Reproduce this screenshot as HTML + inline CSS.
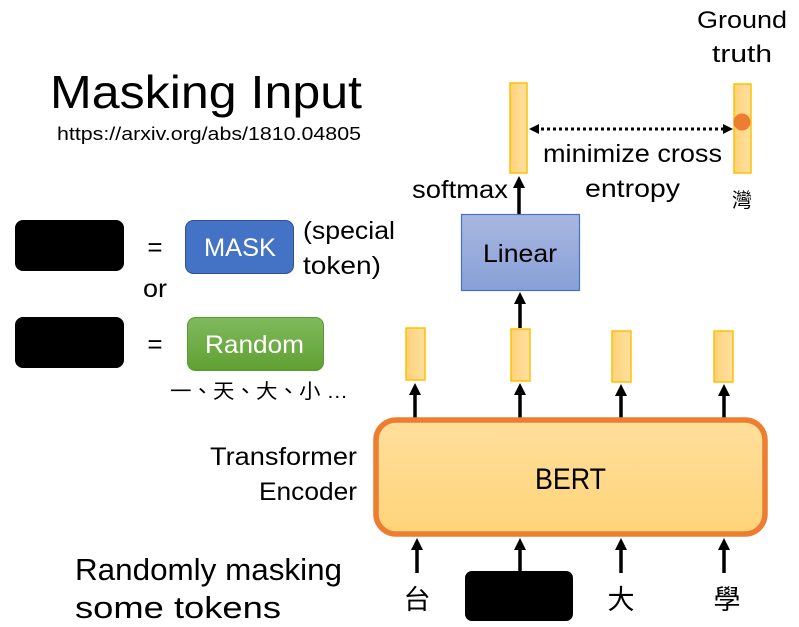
<!DOCTYPE html>
<html><head><meta charset="utf-8"><style>
html,body{margin:0;padding:0;background:#fff}
svg{display:block}
text{font-family:"Liberation Sans","Noto Sans CJK TC",sans-serif;fill:#000}
</style></head><body>
<svg width="799" height="627" viewBox="0 0 799 627" xmlns="http://www.w3.org/2000/svg">
<defs>
<linearGradient id="y" x1="0" y1="0" x2="0" y2="1"><stop offset="0" stop-color="#ffdf9c"/><stop offset="1" stop-color="#ffd47a"/></linearGradient>
<linearGradient id="yb" x1="0" y1="0" x2="1" y2="0"><stop offset="0" stop-color="#ffd27a"/><stop offset="1" stop-color="#ffe0a0"/></linearGradient>
<linearGradient id="b" x1="0" y1="0" x2="0" y2="1"><stop offset="0" stop-color="#a9b7e0"/><stop offset="1" stop-color="#87a0d8"/></linearGradient>
<linearGradient id="g" x1="0" y1="0" x2="0" y2="1"><stop offset="0" stop-color="#80ba5e"/><stop offset="1" stop-color="#60a032"/></linearGradient>
</defs>

<text x="50" y="108" font-size="46" textLength="312" lengthAdjust="spacingAndGlyphs">Masking Input</text>
<text x="57" y="140" font-size="18" textLength="304" lengthAdjust="spacingAndGlyphs">https://arxiv.org/abs/1810.04805</text>

<text x="697" y="28" font-size="24" textLength="90" lengthAdjust="spacingAndGlyphs">Ground</text>
<text x="712" y="62" font-size="24" textLength="60" lengthAdjust="spacingAndGlyphs">truth</text>

<rect x="510" y="83" width="17" height="90" fill="url(#yb)" stroke="#ffc000" stroke-width="1.5"/>
<rect x="734" y="84" width="17" height="89" fill="url(#yb)" stroke="#ffc000" stroke-width="1.5"/>
<circle cx="742" cy="122" r="8.5" fill="#ed7d31"/>
<line x1="535" y1="129" x2="726" y2="129" stroke="#000" stroke-width="3" stroke-dasharray="3 3"/>
<path d="M529,129 L539,124 L539,134 z M733,129 L723,124 L723,134 z" fill="#000"/>
<text x="543" y="162" font-size="25" textLength="179" lengthAdjust="spacingAndGlyphs">minimize cross</text>
<text x="585" y="197" font-size="25" textLength="95" lengthAdjust="spacingAndGlyphs">entropy</text>
<text x="742" y="207" font-size="20" text-anchor="middle">灣</text>
<text x="412" y="198" font-size="25" textLength="96" lengthAdjust="spacingAndGlyphs">softmax</text>

<line x1="519" y1="214" x2="519" y2="186" stroke="#000" stroke-width="3.5"/>
<path d="M519,176 L513,188 L525,188 z" fill="#000"/>
<rect x="461.5" y="214.5" width="118" height="76" fill="url(#b)" stroke="#4472c4" stroke-width="1.2"/>
<text x="483" y="262" font-size="25" textLength="74" lengthAdjust="spacingAndGlyphs">Linear</text>
<line x1="520" y1="328" x2="520" y2="302" stroke="#000" stroke-width="3.5"/>
<path d="M520,292 L514,304 L526,304 z" fill="#000"/>

<rect x="406" y="328" width="19" height="52" fill="url(#yb)" stroke="#ffc000" stroke-width="1.5"/>
<rect x="511" y="329" width="19" height="52" fill="url(#yb)" stroke="#ffc000" stroke-width="1.5"/>
<rect x="612" y="331" width="19" height="51" fill="url(#yb)" stroke="#ffc000" stroke-width="1.5"/>
<rect x="714" y="331" width="19" height="51" fill="url(#yb)" stroke="#ffc000" stroke-width="1.5"/>

<g stroke="#000" stroke-width="3.5">
<line x1="415" y1="418" x2="415" y2="393"/><line x1="520" y1="418" x2="520" y2="393"/>
<line x1="621" y1="418" x2="621" y2="393"/><line x1="724" y1="418" x2="724" y2="393"/>
<line x1="417" y1="573" x2="417" y2="548"/><line x1="520" y1="573" x2="520" y2="548"/>
<line x1="621" y1="573" x2="621" y2="548"/><line x1="724" y1="573" x2="724" y2="548"/>
</g>
<g fill="#000">
<path d="M415,383 L409,395 L421,395 z"/><path d="M520,383 L514,395 L526,395 z"/>
<path d="M621,384 L615,396 L627,396 z"/><path d="M724,384 L718,396 L730,396 z"/>
<path d="M417,538 L411,550 L423,550 z"/><path d="M520,538 L514,550 L526,550 z"/>
<path d="M621,538 L615,550 L627,550 z"/><path d="M724,538 L718,550 L730,550 z"/>
</g>

<rect x="376" y="420" width="389" height="114" rx="20" fill="url(#y)" stroke="#ed7d31" stroke-width="5.5"/>
<text x="535" y="489" font-size="30" textLength="71" lengthAdjust="spacingAndGlyphs">BERT</text>
<text x="210" y="465" font-size="25" textLength="147" lengthAdjust="spacingAndGlyphs">Transformer</text>
<text x="259" y="500" font-size="25" textLength="98" lengthAdjust="spacingAndGlyphs">Encoder</text>

<text x="417" y="609" font-size="27" text-anchor="middle">台</text>
<rect x="465" y="571" width="108" height="50" rx="7" fill="#000"/>
<text x="621" y="609" font-size="27" text-anchor="middle">大</text>
<text x="727" y="609" font-size="27" text-anchor="middle">學</text>

<text x="75" y="580" font-size="31" textLength="267" lengthAdjust="spacingAndGlyphs">Randomly masking</text>
<text x="75" y="618" font-size="31" textLength="206" lengthAdjust="spacingAndGlyphs">some tokens</text>

<rect x="15" y="220" width="109" height="51" rx="8" fill="#000"/>
<rect x="15" y="317" width="109" height="51" rx="8" fill="#000"/>
<text x="155" y="256" font-size="26" text-anchor="middle">=</text>
<text x="155" y="353" font-size="26" text-anchor="middle">=</text>
<rect x="185.5" y="220.5" width="108" height="53" rx="8" fill="#4472c4" stroke="#2f528f" stroke-width="1"/>
<text x="204" y="256" font-size="25" textLength="72" lengthAdjust="spacingAndGlyphs" style="fill:#fff">MASK</text>
<rect x="187.5" y="317.5" width="136" height="53" rx="8" fill="url(#g)" stroke="#5a9a2e" stroke-width="1"/>
<text x="205" y="353" font-size="25" textLength="99" lengthAdjust="spacingAndGlyphs" style="fill:#fff">Random</text>
<text x="303" y="239" font-size="25" textLength="92" lengthAdjust="spacingAndGlyphs">(special</text>
<text x="303" y="274" font-size="25" textLength="78" lengthAdjust="spacingAndGlyphs">token)</text>
<text x="143" y="297" font-size="25" textLength="24" lengthAdjust="spacingAndGlyphs">or</text>
<text x="170" y="398" font-size="20" textLength="178" lengthAdjust="spacingAndGlyphs">一、天、大、小 …</text>
</svg>
</body></html>
